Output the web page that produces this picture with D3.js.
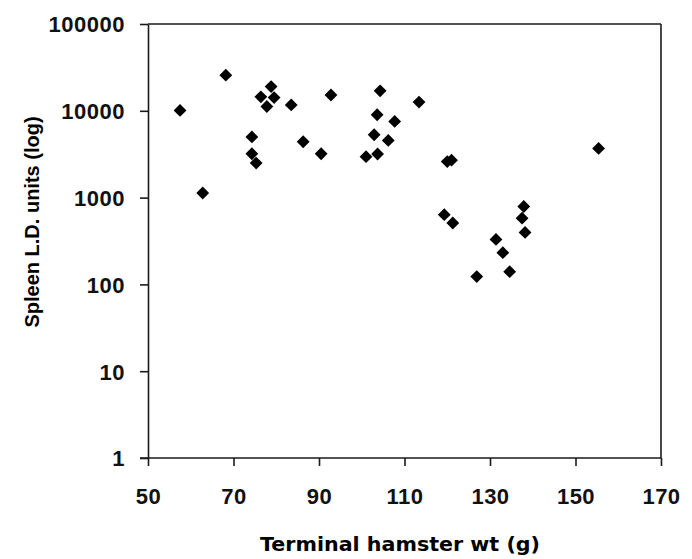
<!DOCTYPE html>
<html>
<head>
<meta charset="utf-8">
<script src="https://cdn.jsdelivr.net/npm/d3@7"></script>
<style>
  body { margin: 0; background: #fff; }
  svg { display: block; }
  .axis path, .axis line { stroke: #1a1a1a; stroke-width: 1.6; }
  .axis text { font-family: "Liberation Sans", Arial, sans-serif; font-weight: bold; font-size: 22px; letter-spacing: 0.5px; fill: #111; }
</style>
</head>
<body>
<svg id="chart" width="692" height="559"></svg>
<script>
// terminal hamster weight (g) and spleen L.D. units
var weight = [57.5, 62.8, 68.2, 74.3, 74.3, 75.3, 76.4, 77.8, 78.8, 79.5,
  83.5, 86.3, 90.5, 92.8, 101, 102.9, 103.6, 103.7, 104.3, 106.2,
  107.7, 113.4, 120, 121, 119.3, 121.3, 126.9, 131.4, 133, 134.6,
  137.5, 137.9, 138.2, 155.4]
var ldu = [10100, 1130, 25700, 5000, 3200, 2500, 14500, 11200, 19000, 14200,
  11700, 4400, 3200, 15200, 2960, 5300, 9000, 3180, 17000, 4560,
  7550, 12600, 2600, 2700, 635, 510, 123, 330, 232, 140,
  580, 790, 397, 3690]
var xTicks = [50, 70, 90, 110, 130, 150, 170]
var yTicks = [1, 10, 100, 1000, 10000, 100000]

var svg = d3.select('#chart')
var pLeft = 148, pRight = 661, pTop = 24, pBottom = 458

var x = d3.scaleLinear().domain([50, 170]).range([pLeft, pRight])
var y = d3.scaleLog().domain([1, 100000]).range([pBottom, pTop])

//frame: top and right edges
svg.append('line').attr('x1', pLeft).attr('x2', pRight).attr('y1', pTop).attr('y2', pTop)
  .attr('stroke', '#1a1a1a').attr('stroke-width', 1.6)
svg.append('line').attr('x1', pRight).attr('x2', pRight).attr('y1', pTop).attr('y2', pBottom)
  .attr('stroke', '#1a1a1a').attr('stroke-width', 1.6)

var gx = svg.append('g').attr('class', 'axis')
  .attr('transform', 'translate(0,' + pBottom + ')')
  .call(d3.axisBottom(x).tickValues(xTicks).tickSize(8).tickSizeOuter(0).tickPadding(22))
gx.select('.domain').attr('d', 'M' + (pLeft - 8) + ',0H' + pRight)

var gy = svg.append('g').attr('class', 'axis')
  .attr('transform', 'translate(' + pLeft + ',0)')
  .call(d3.axisLeft(y).tickValues(yTicks).tickFormat(d3.format('d')).tickSize(8).tickSizeOuter(0).tickPadding(15))
gy.selectAll('text').attr('dy', '0.36em')

svg.append('g').selectAll('path').data(weight).join('path')
  .attr('d', d3.symbol(d3.symbolSquare, 82))
  .attr('transform', function(d, i) { return 'translate(' + x(d) + ',' + y(ldu[i]) + ') rotate(45)' })
  .attr('fill', '#000')

svg.append('text')
  .attr('x', 400).attr('y', 551)
  .attr('text-anchor', 'middle')
  .attr('textLength', 280).attr('lengthAdjust', 'spacingAndGlyphs')
  .style('font-family', '"DejaVu Sans", Verdana, sans-serif').style('font-weight', 'bold').style('font-size', '19px')
  .text('Terminal hamster wt (g)')

svg.append('text')
  .attr('transform', 'translate(39,222) rotate(-90)')
  .attr('text-anchor', 'middle')
  .style('font-family', '"Liberation Sans", Arial, sans-serif').style('font-weight', 'bold').style('font-size', '20px')
  .text('Spleen L.D. units (log)')
</script>
</body>
</html>
